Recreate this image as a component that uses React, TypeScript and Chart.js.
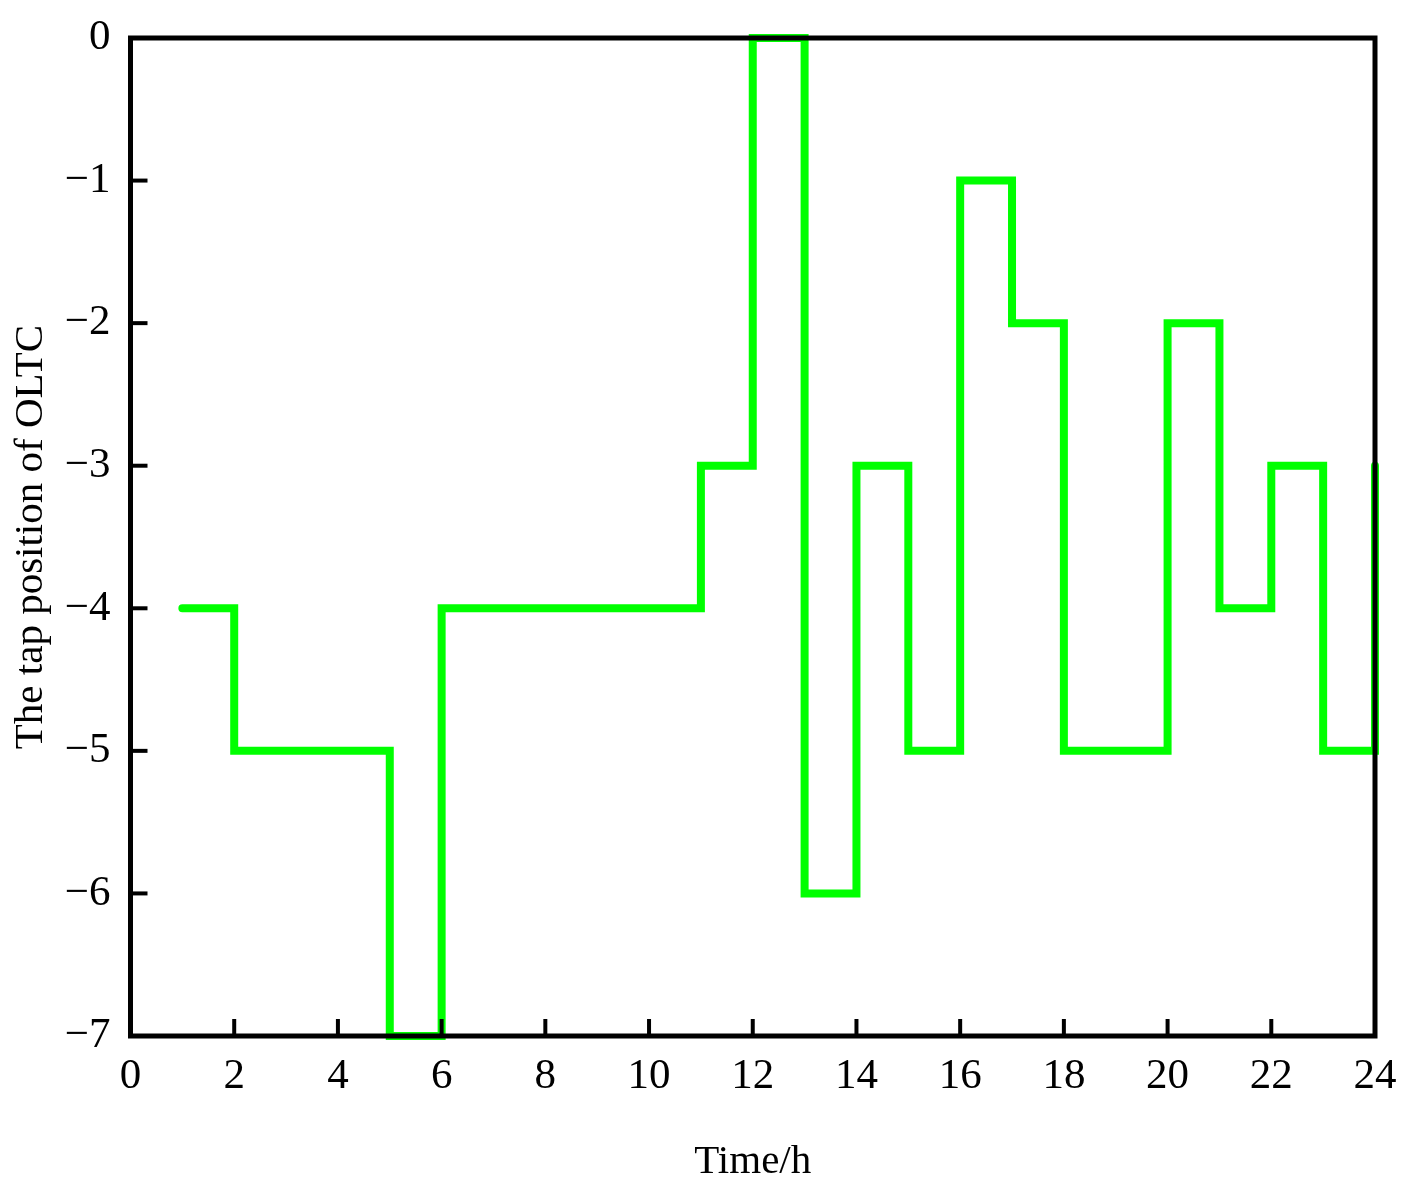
import React, { useEffect, useRef } from "react";
import { Chart, registerables } from "chart.js";

Chart.register(...registerables);

const hours = [1, 2, 3, 4, 5, 6, 7, 8, 9, 10, 11, 12, 13, 14, 15, 16, 17, 18, 19, 20, 21, 22, 23, 24];
const tapPosition = [-4, -5, -5, -5, -7, -4, -4, -4, -4, -4, -3, 0, -6, -3, -5, -1, -2, -5, -5, -2, -4, -3, -5, -3];
const xTitle = "Time/h";
const yTitle = "The tap position of OLTC";

const W = 1413;
const H = 1198;
const FONT = "'Liberation Serif', 'Times New Roman', serif";

const framePlugin = {
  id: "framePlugin",
  afterDatasetsDraw(chart: any) {
    const { ctx, chartArea, scales } = chart;
    const { left, right, top, bottom } = chartArea;
    ctx.save();
    ctx.strokeStyle = "#000";
    ctx.lineWidth = 4;
    ctx.lineCap = "butt";
    scales.x.ticks.forEach((t: any) => {
      const px = scales.x.getPixelForValue(t.value);
      ctx.beginPath();
      ctx.moveTo(px, bottom);
      ctx.lineTo(px, bottom - 17);
      ctx.stroke();
    });
    scales.y.ticks.forEach((t: any) => {
      const py = scales.y.getPixelForValue(t.value);
      ctx.beginPath();
      ctx.moveTo(left, py);
      ctx.lineTo(left + 17, py);
      ctx.stroke();
    });
    ctx.lineWidth = 5;
    ctx.lineJoin = "miter";
    ctx.strokeRect(left, top, right - left, bottom - top);
    ctx.restore();
  },
};

export default function App() {
  const ref = useRef<HTMLCanvasElement | null>(null);

  useEffect(() => {
    if (!ref.current) return;
    const chart = new Chart(ref.current, {
      type: "line",
      data: {
        datasets: [
          {
            data: hours.map((h, i) => ({ x: h, y: tapPosition[i] })),
            borderColor: "#00ff00",
            backgroundColor: "#00ff00",
            borderWidth: 8,
            stepped: true,
            pointRadius: 0,
            fill: false,
            borderCapStyle: "round",
            borderJoinStyle: "miter",
            clip: false as any,
          },
        ],
      },
      options: {
        responsive: false,
        animation: false,
        devicePixelRatio: 1,
        layout: { padding: { top: 38, right: 38, left: 0, bottom: 0 } },
        plugins: {
          legend: { display: false },
          tooltip: { enabled: false },
        },
        scales: {
          x: {
            type: "linear",
            min: 0,
            max: 24,
            grid: { display: false, drawTicks: false },
            border: { display: false },
            ticks: {
              stepSize: 2,
              padding: 15,
              color: "#000",
              font: { family: FONT, size: 43 },
              maxRotation: 0,
              callback: (v: any) => String(v).replace("-", "\u2212"),
            },
            title: {
              display: true,
              text: xTitle,
              color: "#000",
              font: { family: FONT, size: 41 },
              padding: { top: 0, bottom: 11 },
            },
            afterFit: (s: any) => {
              s.height = H - 1036;
              s.paddingLeft = 0;
              s.paddingRight = 0;
            },
          },
          y: {
            type: "linear",
            min: -7,
            max: 0,
            grid: { display: false, drawTicks: false },
            border: { display: false },
            ticks: {
              stepSize: 1,
              padding: 20,
              color: "#000",
              font: { family: FONT, size: 43 },
              callback: (v: any) => String(v).replace("-", "\u2212"),
            },
            title: {
              display: true,
              text: yTitle,
              color: "#000",
              font: { family: FONT, size: 41 },
              padding: { top: 7, bottom: 0 },
            },
            afterFit: (s: any) => {
              s.width = 130.5;
              s.paddingTop = 0;
              s.paddingBottom = 0;
            },
          },
        },
      },
      plugins: [framePlugin],
    });
    return () => chart.destroy();
  }, []);

  return (
    <div style={{ position: "absolute", left: 0, top: 0, width: W, height: H, background: "#fff" }}>
      <canvas ref={ref} width={W} height={H} style={{ width: W, height: H, display: "block" }} />
    </div>
  );
}
